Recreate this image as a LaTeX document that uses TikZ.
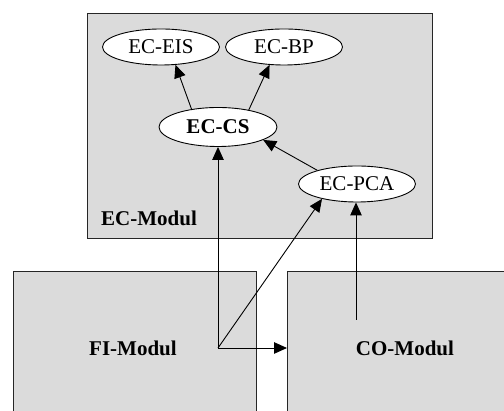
\documentclass[tikz,border=0pt]{standalone}
\usepackage{fontspec}
\setmainfont{Liberation Serif}
\usetikzlibrary{shapes.geometric,arrows.meta}
\begin{document}
\begin{tikzpicture}[x=1pt,y=1pt,
  modbox/.style={draw=black!85,line width=1pt,fill=black!14},
  comp/.style={ellipse,draw=black,line width=0.9pt,fill=white,inner sep=0pt,
    minimum width=117pt,minimum height=36pt,font=\fontsize{21}{25}\selectfont},
  lbl/.style={font=\fontsize{21}{25}\selectfont\bfseries},
  arr/.style={line width=0.9pt,-{Triangle[length=13pt,width=11.5pt]}}]
\useasboundingbox (0,0) rectangle (504,411);
% module boxes
\node[modbox,minimum width=345pt,minimum height=225pt,inner sep=0pt,anchor=south west] (ec) at (87,172) {};
\node[modbox,minimum width=243pt,minimum height=160pt,inner sep=0pt,anchor=south west] (fi) at (13,-21) {};
\node[modbox,minimum width=240pt,minimum height=160pt,inner sep=0pt,anchor=south west] (co) at (287,-21) {};
% labels of the modules
\node[lbl,anchor=west,inner sep=0pt] (eclbl) at (101,193) {EC-Modul};
\node[lbl,inner sep=0pt] (filbl) at (133,63) {FI-Modul};
\node[lbl,inner sep=0pt] (colbl) at (405,63) {CO-Modul};
% components
\node[comp] (eis) at (161,364) {EC-EIS};
\node[comp] (bp) at (284,364) {EC-BP};
\node[comp,minimum width=118pt,minimum height=39pt,font=\fontsize{21}{25}\selectfont\bfseries] (cs) at (218,284) {EC-CS};
\node[comp] (pca) at (357,227) {EC-PCA};
% connection points inside FI and CO
\coordinate (fiout) at (218,63);
\coordinate (coout) at (356,91);
% connectors
\draw[arr] (cs.146) -- (eis.-51);
\draw[arr] (cs.29) -- (bp.231);
\draw[arr] (pca.161) -- (cs.-16);
\draw[arr] (fiout) -- (cs.south);
\draw[arr] (fiout) -- (pca.203);
\draw[arr] (fiout) -- (fiout -| co.west);
\draw[arr] (coout) -- (coout |- pca.south);
\end{tikzpicture}
\end{document}
